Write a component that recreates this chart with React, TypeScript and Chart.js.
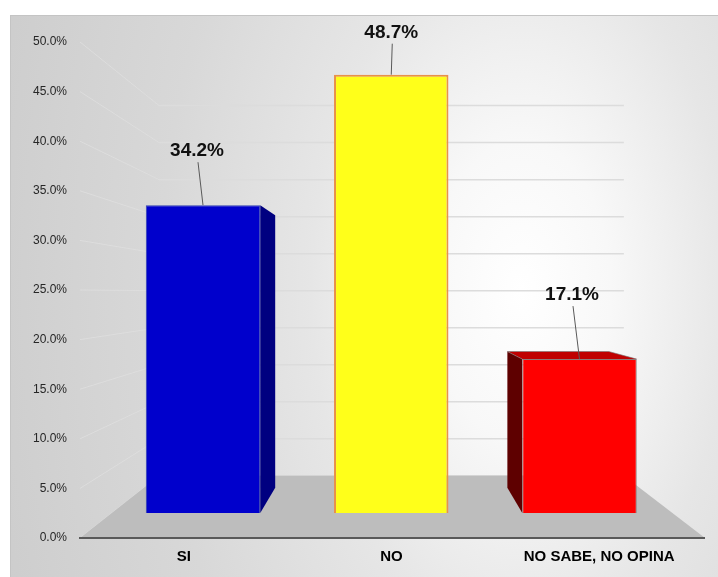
import React, { useEffect, useRef } from 'react';
import { Chart, registerables } from 'chart.js';

Chart.register(...registerables);

// ---- data ----
const CATEGORIES = ['SI', 'NO', 'NO SABE, NO OPINA'];
const VALUES = [34.2, 48.7, 17.1];
const Y_MIN = 0;
const Y_MAX = 50;
const Y_STEP = 5;

// ---- styles ----
const FRONT_COLORS = ['#0000CC', '#FFFF1A', '#FF0000'];
const BORDER_COLORS = ['#2E3FB0', '#E8904A', '#8C7A7A'];
const BORDER_WIDTHS = [1, 2, 1];
const SIDE_COLORS = ['#000080', '#B3B300', '#5E0000'];
const TOP_COLORS = ['#0000A8', '#E6E600', '#C00000'];
const LABEL_OFFSETS: [number, number][] = [[-6, -55], [0, -43], [-7.5, -65]];
const FONT = '"Liberation Sans", Arial, sans-serif';

const K_WALL = 0.254; // depth of back wall (perspective factor)
const K_BAR = 0.114; // depth of a bar

const threeD = {
  id: 'threeD',
  beforeDatasetsDraw(chart: any) {
    const { ctx, chartArea: a, scales } = chart;
    const y = scales.y;
    const vx = (a.left + a.right) / 2;
    const vy = a.top + 0.505 * (a.bottom - a.top);
    const proj = (x: number, yy: number, k: number) => [x + k * (vx - x), yy + k * (vy - yy)];
    ctx.save();
    // gridlines: left wall diagonal + back wall horizontal
    y.ticks.forEach((t: any) => {
      const py = y.getPixelForValue(t.value);
      const [bx, by] = proj(a.left, py, K_WALL);
      const [rx] = proj(a.right, py, K_WALL);
      ctx.strokeStyle = 'rgba(222,222,222,0.85)';
      ctx.lineWidth = 1;
      ctx.beginPath();
      ctx.moveTo(a.left, py);
      ctx.lineTo(bx, by);
      ctx.stroke();
      ctx.lineWidth = 1.5;
      ctx.strokeStyle = '#dcdcdc';
      ctx.beginPath();
      ctx.moveTo(bx, by);
      ctx.lineTo(rx, by);
      ctx.stroke();
    });
    // floor
    const base = y.getPixelForValue(0);
    const fl = proj(a.left, base, K_WALL);
    const fr = proj(a.right, base, K_WALL);
    ctx.fillStyle = '#bdbdbd';
    ctx.beginPath();
    ctx.moveTo(a.left, base);
    ctx.lineTo(a.right + 2, base);
    ctx.lineTo(fr[0], fr[1]);
    ctx.lineTo(fl[0], fl[1]);
    ctx.closePath();
    ctx.fill();
    // front axis line
    ctx.strokeStyle = '#595959';
    ctx.lineWidth = 2;
    ctx.beginPath();
    ctx.moveTo(a.left - 1, base);
    ctx.lineTo(a.right + 2, base);
    ctx.stroke();
    // bar sides / tops
    const meta = chart.getDatasetMeta(0);
    meta.data.forEach((bar: any, i: number) => {
      const p = bar.getProps(['x', 'y', 'base', 'width'], true);
      const L = p.x - p.width / 2;
      const R = p.x + p.width / 2;
      const top = p.y;
      const bot = p.base;
      const poly = (pts: number[][], color: string) => {
        ctx.fillStyle = color;
        ctx.beginPath();
        ctx.moveTo(pts[0][0], pts[0][1]);
        for (let j = 1; j < pts.length; j++) ctx.lineTo(pts[j][0], pts[j][1]);
        ctx.closePath();
        ctx.fill();
      };
      if (R < vx) {
        poly([[R, top], proj(R, top, K_BAR), proj(R, bot, K_BAR), [R, bot]], SIDE_COLORS[i]);
      }
      if (L > vx) {
        poly([[L, top], proj(L, top, K_BAR), proj(L, bot, K_BAR), [L, bot]], SIDE_COLORS[i]);
      }
      if (top > vy) {
        poly([[L, top], [R, top], proj(R, top, K_BAR), proj(L, top, K_BAR)], TOP_COLORS[i]);
        ctx.strokeStyle = 'rgba(120,120,120,0.6)';
        ctx.lineWidth = 1;
        ctx.beginPath();
        ctx.moveTo(L, top);
        const pl = proj(L, top, K_BAR);
        const pr = proj(R, top, K_BAR);
        ctx.lineTo(pl[0], pl[1]);
        ctx.lineTo(pr[0], pr[1]);
        ctx.lineTo(R, top);
        ctx.stroke();
      }
    });
    ctx.restore();
  },
  afterDatasetsDraw(chart: any) {
    const { ctx } = chart;
    const meta = chart.getDatasetMeta(0);
    ctx.save();
    meta.data.forEach((bar: any, i: number) => {
      const [dx, dy] = LABEL_OFFSETS[i];
      const lx = bar.x + dx;
      const ly = bar.y + dy;
      ctx.strokeStyle = '#595959';
      ctx.lineWidth = 1;
      ctx.beginPath();
      ctx.moveTo(lx + 1, ly + 12);
      ctx.lineTo(bar.x, bar.y);
      ctx.stroke();
      ctx.font = 'bold 19px ' + FONT;
      ctx.fillStyle = '#111111';
      ctx.textAlign = 'center';
      ctx.textBaseline = 'middle';
      ctx.fillText(VALUES[i].toFixed(1) + '%', lx, ly + 1);
    });
    ctx.restore();
  },
};

export default function App() {
  const ref = useRef<HTMLCanvasElement | null>(null);
  useEffect(() => {
    if (!ref.current) return;
    const chart = new Chart(ref.current, {
      type: 'bar',
      data: {
        labels: CATEGORIES,
        datasets: [
          {
            data: VALUES.map((v, i) => ({ x: i, y: v })) as any,
            xAxisID: 'xBar',
            yAxisID: 'yBar',
            backgroundColor: FRONT_COLORS,
            borderColor: BORDER_COLORS,
            borderWidth: BORDER_WIDTHS,
            categoryPercentage: 1,
            barPercentage: 0.608,
          },
        ],
      },
      options: {
        animation: false,
        responsive: false,
        devicePixelRatio: 1,
        layout: { padding: { left: 8, top: 42, right: 15, bottom: 0 } },
        plugins: { legend: { display: false }, tooltip: { enabled: false } },
        scales: {
          x: {
            type: 'category',
            position: 'bottom',
            offset: true,
            grid: { display: false, drawTicks: false },
            border: { display: false },
            ticks: {
              font: { family: FONT, size: 15, weight: 'bold' },
              color: '#000000',
              padding: 10,
              maxRotation: 0,
              autoSkip: false,
            },
            afterFit: (s: any) => {
              s.height = 39;
            },
          },
          y: {
            type: 'linear',
            position: 'left',
            min: Y_MIN,
            max: Y_MAX,
            grid: { display: false, drawTicks: false },
            border: { display: false },
            ticks: {
              stepSize: Y_STEP,
              callback: (v: any) => Number(v).toFixed(1) + '%',
              font: { family: FONT, size: 12 },
              color: '#262626',
              padding: 13,
            },
            afterFit: (s: any) => {
              s.width = 72;
            },
          },
          xBar: {
            type: 'linear',
            axis: 'x',
            display: false,
            offset: false,
            min: -0.6534,
            max: 2.656,
            ticks: { stepSize: 1, includeBounds: false },
          },
          yBar: {
            type: 'linear',
            axis: 'y',
            display: false,
            min: -2.778,
            max: 52.333,
          },
        } as any,
      },
      plugins: [threeD],
    });
    return () => chart.destroy();
  }, []);

  return (
    <div style={{ position: 'fixed', left: 0, top: 0, width: 718, height: 577, overflow: 'hidden' }}>
      <div
        style={{
          position: 'absolute',
          left: 10,
          top: 15,
          width: 720,
          height: 570,
          borderTop: '1px solid #c4c4c4',
          borderLeft: '1px solid #c4c4c4',
          background:
            'radial-gradient(ellipse 600px 1000px at 510px 275px, #ffffff 0%, #f8f8f8 15%, #e6e6e6 35%, #d8d8d8 60%, #cacaca 100%)',
        }}
      />
      <canvas ref={ref} width={718} height={577} style={{ position: 'absolute', left: 0, top: 0 }} />
    </div>
  );
}
